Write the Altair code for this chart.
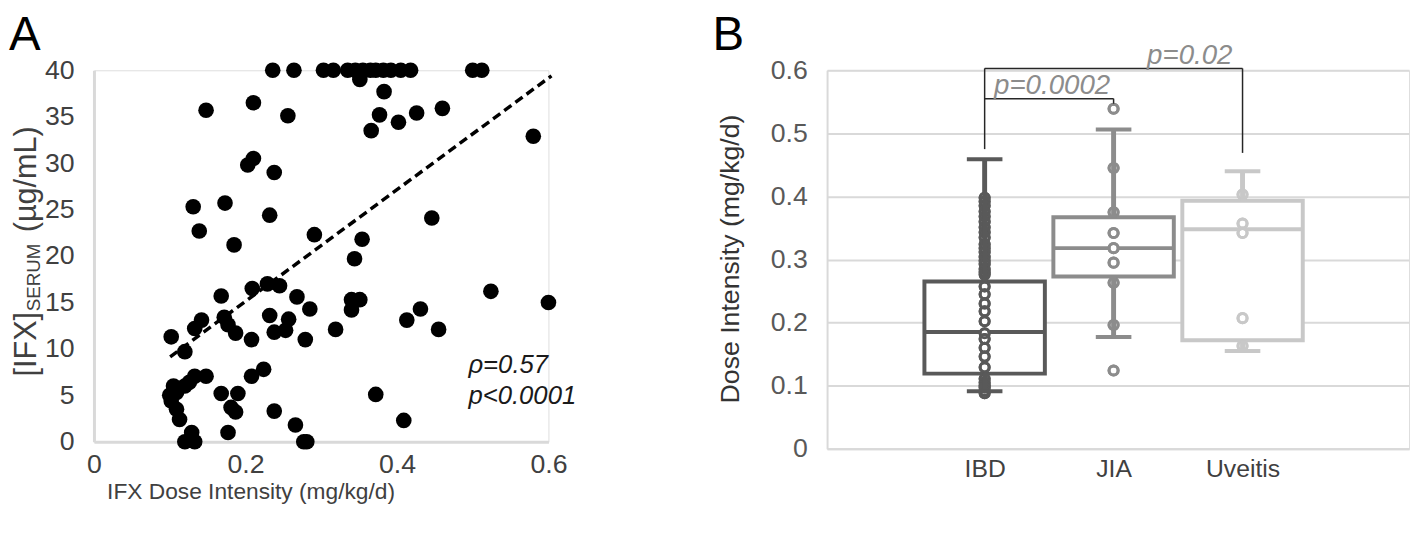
import altair as alt
import pandas as pd

FONT = "Liberation Sans"

# ---------------- Panel A data ----------------
dose = [
    0.236, 0.264, 0.303, 0.316, 0.335, 0.345, 0.355, 0.365, 0.372, 0.382, 0.392, 0.405, 0.418, 0.500, 0.512,
    0.351, 0.148, 0.2105, 0.256, 0.383, 0.377, 0.402, 0.426, 0.460, 0.366, 0.580,
    0.2105, 0.203, 0.238, 0.131, 0.173, 0.232, 0.139, 0.185, 0.291, 0.446, 0.354,
    0.344, 0.340, 0.351, 0.340, 0.319, 0.524, 0.600, 0.413, 0.431, 0.455, 0.372, 0.409,
    0.168, 0.209, 0.229, 0.245, 0.268, 0.285, 0.232, 0.257, 0.238, 0.253, 0.279, 0.208, 0.187, 0.172, 0.177,
    0.142, 0.133, 0.102, 0.120,
    0.224, 0.208, 0.148, 0.133, 0.120, 0.105, 0.109, 0.102, 0.109, 0.113, 0.126, 0.100,
    0.168, 0.190, 0.181, 0.187, 0.177, 0.238, 0.266, 0.277, 0.281, 0.120, 0.133, 0.129,
]
ifx = [
    40, 40, 40, 40, 40, 40, 40, 40, 40, 40, 40, 40, 40, 40, 40,
    39.0, 35.7, 36.5, 35.1, 37.7, 35.2, 34.4, 35.4, 35.9, 33.5, 32.9,
    30.5, 29.8, 29.0, 25.3, 25.7, 24.4, 22.7, 21.2, 22.3, 24.1, 21.8,
    19.7, 15.3, 15.3, 14.2, 12.1, 16.2, 15.0, 13.1, 14.3, 12.1, 5.1, 2.3,
    15.7, 16.5, 17.0, 16.8, 15.6, 14.3, 13.6, 13.2, 11.8, 12.0, 11.0, 11.0, 11.7, 13.4, 12.6,
    13.1, 12.2, 11.3, 9.7,
    7.8, 7.05, 7.05, 7.05, 6.0, 6.0, 5.3, 4.4, 3.5, 2.4, 6.4, 5.0,
    5.2, 5.2, 3.7, 3.2, 1.0, 3.3, 1.8, 0, 0, 0, 0, 1.0,
]
trend_dose = [0.1006, 0.604]
trend_ifx = [9.15, 39.4]
x_ticks_a = [0, 0.2, 0.4, 0.6]
y_ticks_a = [0, 5, 10, 15, 20, 25, 30, 35, 40]

# ---------------- Panel B data ----------------
categories = ["IBD", "JIA", "Uveitis"]
whisker_low = [0.091, 0.177, 0.155]
q1 = [0.119, 0.273, 0.172]
median = [0.185, 0.318, 0.348]
q3 = [0.265, 0.367, 0.393]
whisker_high = [0.459, 0.506, 0.440]
group_colors = ["#595959", "#8c8c8c", "#c8c8c8"]
ibd_points = [0.398, 0.392, 0.385, 0.376, 0.368, 0.360, 0.351, 0.343, 0.335, 0.324, 0.318, 0.312,
              0.304, 0.298, 0.293, 0.285, 0.280, 0.276, 0.257, 0.245, 0.230, 0.218, 0.202, 0.183,
              0.174, 0.160, 0.146, 0.129, 0.111, 0.105, 0.100, 0.097, 0.092, 0.088]
jia_points = [0.539, 0.445, 0.375, 0.342, 0.318, 0.295, 0.263, 0.196, 0.124]
uveitis_points = [0.403, 0.357, 0.342, 0.207, 0.163]
y_ticks_b = [0, 0.1, 0.2, 0.3, 0.4, 0.5, 0.6]
bracket_x1 = [1, 1, 3, 1, 2]
bracket_x2 = [3, 1, 3, 2, 2]
bracket_y1 = [0.603, 0.603, 0.603, 0.555, 0.555]
bracket_y2 = [0.603, 0.475, 0.469, 0.555, 0.547]
pval_labels = ["p=0.0002", "p=0.02"]
pval_x = [1.073, 2.26]
pval_y = [0.563, 0.610]

# ---------------- Panel A ----------------
AW, AH = 460, 376
scatter_df = pd.DataFrame({"dose": dose, "ifx": ifx})
trend_df = pd.DataFrame({"dose": trend_dose, "ifx": trend_ifx})

xa_axis = alt.Axis(values=x_ticks_a, format="~g", title=None, grid=False, ticks=False,
                   domainColor="#d9d9d9", domainWidth=3, labelFontSize=27, labelColor="#404040",
                   labelPadding=10, labelFlush=False, labelOverlap=False, labelFont=FONT)
ya_axis = alt.Axis(values=y_ticks_a, format="~g", title=None, grid=False, ticks=False,
                   domainColor="#d9d9d9", domainWidth=3, labelFontSize=27, labelColor="#404040",
                   labelPadding=20, labelOverlap=False, labelFont=FONT)
xa = alt.X("dose:Q", scale=alt.Scale(domain=[0, 0.6], nice=False), axis=xa_axis)
ya = alt.Y("ifx:Q", scale=alt.Scale(domain=[0, 40], nice=False), axis=ya_axis)

pts_a = alt.Chart(scatter_df).mark_circle(size=250, color="black", opacity=1).encode(x=xa, y=ya)
line_a = alt.Chart(trend_df).mark_line(color="black", strokeWidth=3.5, strokeDash=[9, 5]).encode(x=xa, y=ya)


def text_layer(txt, x, y, **kw):
    return alt.Chart(pd.DataFrame({"t": [txt]})).mark_text(font=FONT, **kw).encode(
        text="t:N", x=alt.value(x), y=alt.value(y))


ann1 = text_layer("ρ=0.57", 379, 306, fontSize=26, fontStyle="italic", align="left",
                  baseline="alphabetic", color="#1a1a1a")
ann2 = text_layer("p<0.0001", 379, 338, fontSize=26, fontStyle="italic", align="left",
                  baseline="alphabetic", color="#1a1a1a")
ytA1 = text_layer("[IFX]", -68, 310, fontSize=31, angle=270, align="left", baseline="middle", color="#404040")
ytA2 = text_layer("SERUM", -61, 244, fontSize=19, angle=270, align="left", baseline="middle", color="#404040")
ytA3 = text_layer("(µg/mL)", -68, 164, fontSize=31, angle=270, align="left", baseline="middle", color="#404040")
xtA = text_layer("IFX Dose Intensity (mg/kg/d)", 159, 427, fontSize=23, align="center",
                 baseline="middle", color="#404040")
letA = text_layer("A", -86, -59, fontSize=48, align="left", baseline="top", color="black")

panelA = alt.layer(pts_a, line_a, ann1, ann2, ytA1, ytA2, ytA3, xtA, letA).properties(width=AW, height=AH)

# ---------------- Panel B ----------------
BW, BH = 589, 383
pos = [i + 1 for i in range(len(categories))]
box_df = pd.DataFrame({"category": categories, "pos": pos, "lo": whisker_low, "q1": q1,
                       "med": median, "q3": q3, "hi": whisker_high})
pts_rows = []
for cat, vals in zip(categories, [ibd_points, jia_points, uveitis_points]):
    for v in vals:
        pts_rows.append({"category": cat, "pos": categories.index(cat) + 1, "value": v})
pts_df = pd.DataFrame(pts_rows)
br_df = pd.DataFrame({"x1": bracket_x1, "x2": bracket_x2, "y1": bracket_y1, "y2": bracket_y2})
pv_df = pd.DataFrame({"label": pval_labels, "x": pval_x, "y": pval_y})

label_expr = "[" + ",".join("'%s'" % c for c in categories) + "][datum.value - 1]"
xb_axis = alt.Axis(values=pos, labelExpr=label_expr, title=None, grid=False, ticks=False,
                   domainColor="#d9d9d9", domainWidth=2, labelFontSize=25, labelColor="#404040",
                   labelPadding=8, labelFlush=False, labelOverlap=False, labelFont=FONT)
yb_axis = alt.Axis(values=y_ticks_b, format="~g", title=None, grid=True, gridColor="#d9d9d9",
                   gridWidth=2, ticks=False, domainColor="#d9d9d9", domainWidth=2, labelFontSize=27,
                   labelColor="#595959", labelPadding=20, labelOverlap=False, labelFont=FONT)
xscale_b = alt.Scale(domain=[-0.222, 4.291], nice=False, zero=False)
yscale_b = alt.Scale(domain=[0, 0.6], nice=False)
stroke_enc = alt.Stroke("category:N", scale=alt.Scale(domain=categories, range=group_colors), legend=None)

base_b = alt.Chart(box_df).transform_calculate(
    xl="datum.pos - 0.467", xr="datum.pos + 0.467", cl="datum.pos - 0.138", cr="datum.pos + 0.138")

box = base_b.mark_rect(fill="white", strokeWidth=4).encode(
    x=alt.X("xl:Q", scale=xscale_b, axis=xb_axis), x2="xr:Q",
    y=alt.Y("q1:Q", scale=yscale_b, axis=yb_axis), y2="q3:Q", stroke=stroke_enc)
med = base_b.mark_rule(strokeWidth=4).encode(
    x=alt.X("xl:Q", scale=xscale_b, axis=xb_axis), x2="xr:Q",
    y=alt.Y("med:Q", scale=yscale_b, axis=yb_axis), stroke=stroke_enc)
dots_fill = alt.Chart(pts_df).mark_point(shape="circle", filled=True, fill="white", strokeWidth=3,
                                          size=85, opacity=1).encode(
    x=alt.X("pos:Q", scale=xscale_b, axis=xb_axis),
    y=alt.Y("value:Q", scale=yscale_b, axis=yb_axis), stroke=stroke_enc)
dots_ring = alt.Chart(pts_df).mark_point(shape="circle", filled=False, strokeWidth=3,
                                          size=85, opacity=1).encode(
    x=alt.X("pos:Q", scale=xscale_b, axis=xb_axis),
    y=alt.Y("value:Q", scale=yscale_b, axis=yb_axis), stroke=stroke_enc)
whisk_up = base_b.mark_rule(strokeWidth=5).encode(
    x=alt.X("pos:Q", scale=xscale_b, axis=xb_axis),
    y=alt.Y("q3:Q", scale=yscale_b, axis=yb_axis), y2="hi:Q", stroke=stroke_enc)
whisk_dn = base_b.mark_rule(strokeWidth=5).encode(
    x=alt.X("pos:Q", scale=xscale_b, axis=xb_axis),
    y=alt.Y("lo:Q", scale=yscale_b, axis=yb_axis), y2="q1:Q", stroke=stroke_enc)
cap_lo = base_b.mark_rule(strokeWidth=4).encode(
    x=alt.X("cl:Q", scale=xscale_b, axis=xb_axis), x2="cr:Q",
    y=alt.Y("lo:Q", scale=yscale_b, axis=yb_axis), stroke=stroke_enc)
cap_hi = base_b.mark_rule(strokeWidth=4).encode(
    x=alt.X("cl:Q", scale=xscale_b, axis=xb_axis), x2="cr:Q",
    y=alt.Y("hi:Q", scale=yscale_b, axis=yb_axis), stroke=stroke_enc)
brackets = alt.Chart(br_df).mark_rule(color="#262626", strokeWidth=1.5).encode(
    x=alt.X("x1:Q", scale=xscale_b, axis=xb_axis), x2="x2:Q",
    y=alt.Y("y1:Q", scale=yscale_b, axis=yb_axis), y2="y2:Q")
pvals = alt.Chart(pv_df).mark_text(font=FONT, fontSize=28, fontStyle="italic", align="left",
                                   baseline="alphabetic", color="#8c8c8c").encode(
    x=alt.X("x:Q", scale=xscale_b, axis=xb_axis),
    y=alt.Y("y:Q", scale=yscale_b, axis=yb_axis), text="label:N")
ytB = text_layer("Dose Intensity (mg/kg/d)", -97, 191, fontSize=27, angle=270, align="center",
                 baseline="middle", color="#333333")
letB = text_layer("B", -116, -59, fontSize=48, align="left", baseline="top", color="black")

panelB = alt.layer(box, med, dots_fill, dots_ring, whisk_up, whisk_dn, cap_lo, cap_hi,
                   brackets, pvals, ytB, letB).properties(width=BW, height=BH)

chart = alt.hconcat(panelA, panelB, spacing=136).properties(
    padding={"left": 0, "top": 0, "right": 0, "bottom": 0}
).configure_view(stroke=None).configure(font=FONT)

chart.save("out.html", embed_options={"renderer": "svg", "actions": False})
